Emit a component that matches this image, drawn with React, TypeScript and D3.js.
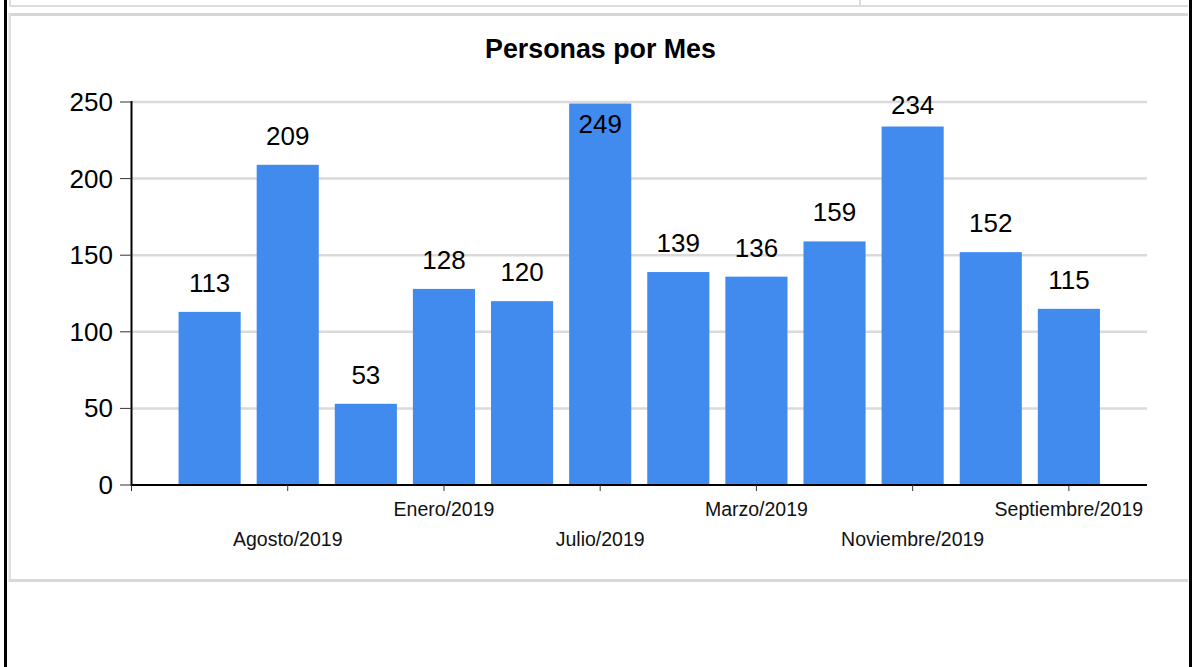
import React from 'react';
import * as d3 from 'd3';

const months = [
  'Abril/2019', 'Agosto/2019', 'Diciembre/2019', 'Enero/2019', 'Febrero/2019', 'Julio/2019',
  'Junio/2019', 'Marzo/2019', 'Mayo/2019', 'Noviembre/2019', 'Octubre/2019', 'Septiembre/2019',
];
const personas = [113, 209, 53, 128, 120, 249, 139, 136, 159, 234, 152, 115];
const yTicks = [0, 50, 100, 150, 200, 250];
const title = 'Personas por Mes';

const W = 1194;
const H = 667;
const font = '"Liberation Sans", Arial, sans-serif';

export default function App() {
  // linear x: one unit per month, axis starts one unit before the first bar
  const x = d3.scaleLinear().domain([-1, months.length]).range([131.5, 1147]);
  const y = d3.scaleLinear().domain([0, 250]).range([485, 102]);
  const step = x(1) - x(0);
  const barW = step * 0.795;
  const xTicks = d3.range(-1, months.length, 2);

  const labelY = (v: number) => {
    const top = y(v);
    if (top - 20 >= 114) return top - 20;
    if (top - 2 > 114) return 114;
    return top + 29;
  };

  return (
    <svg width={W} height={H} style={{ position: 'absolute', left: 0, top: 0, background: '#fff' }}
      fontFamily={font}>
      {/* page frame */}
      <rect x={4} y={0} width={3} height={H} fill="#000" />
      <rect x={1189} y={0} width={3} height={H} fill="#000" />
      <rect x={9} y={0} width={2} height={6} fill="#dcdcdc" />
      <rect x={859} y={0} width={2} height={6} fill="#dcdcdc" />
      <rect x={9} y={5} width={1179} height={2} fill="#dcdcdc" />
      <rect x={9} y={13} width={1179} height={3} fill="#d6d6d6" />
      <rect x={8.5} y={13} width={2.5} height={569} fill="#dedede" />
      <rect x={9} y={579} width={1179} height={3} fill="#d8d8d8" />

      <text x={600.5} y={57.5} textAnchor="middle" fontSize={26.8} fontWeight="bold" fill="#000">{title}</text>

      {/* grid */}
      {yTicks.filter(t => t > 0).map(t => (
        <line key={t} x1={x(-1)} x2={x(months.length)} y1={y(t)} y2={y(t)} stroke="#dadada" strokeWidth={2.5} />
      ))}

      {/* bars */}
      {personas.map((v, i) => (
        <rect key={months[i]} x={x(i) - barW / 2} y={y(v)} width={barW} height={y(0) - y(v)} fill="#418aee" />
      ))}
      {personas.map((v, i) => (
        <text key={'l' + i} x={x(i)} y={labelY(v)} textAnchor="middle" fontSize={26} fill="#000">{v}</text>
      ))}

      {/* y axis */}
      <line x1={x(-1)} x2={x(-1)} y1={y(250) - 1} y2={y(0) + 1} stroke="#000" strokeWidth={2} />
      {yTicks.map(t => (
        <g key={t}>
          <line x1={120} x2={x(-1)} y1={y(t)} y2={y(t)} stroke="#333" strokeWidth={1} />
          <text x={113} y={y(t) + 9} textAnchor="end" fontSize={26} fill="#000">{t}</text>
        </g>
      ))}

      {/* x axis */}
      <line x1={x(-1)} x2={x(months.length)} y1={y(0)} y2={y(0)} stroke="#000" strokeWidth={2} />
      {xTicks.map(t => (
        <line key={t} x1={x(t)} x2={x(t)} y1={y(0)} y2={y(0) + 6} stroke="#333" strokeWidth={1} />
      ))}
      {xTicks.filter(t => t >= 0).map((t, k) => (
        <text key={months[t]} x={x(t)} y={k % 2 === 0 ? 546 : 516} textAnchor="middle" fontSize={19.5} fill="#111">
          {months[t]}
        </text>
      ))}
    </svg>
  );
}
